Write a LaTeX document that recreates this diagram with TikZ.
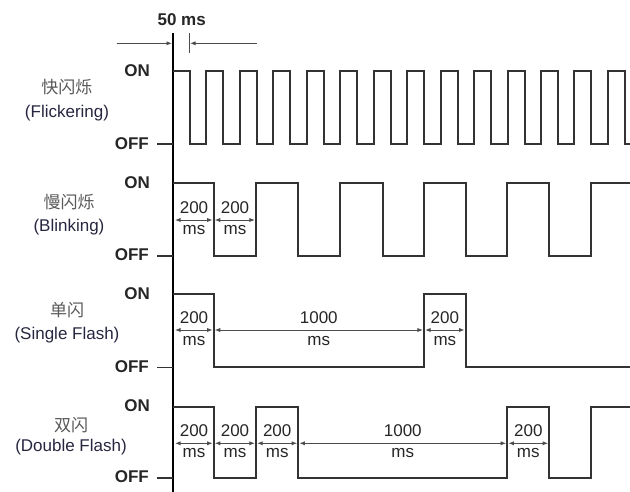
\documentclass[tikz,border=0pt]{standalone}
\usepackage{fontspec}
\setmainfont{Liberation Sans}
\newfontfamily\cjk{Noto Sans CJK SC}
\usetikzlibrary{arrows.meta}
\begin{document}
\begin{tikzpicture}[x=1pt,y=-1pt,
  sig/.style={line width=2pt, draw=black!80, line join=miter},
  axisline/.style={line width=2pt, draw=black},
  offtick/.style={line width=1.6pt, draw=black!80},
  dimtip/.style={line width=0.9pt, draw=black!70, -{Latex[length=5.5pt,width=4.2pt]}},
  dimboth/.style={line width=0.9pt, draw=black!70, {Latex[length=5.5pt,width=4.2pt]}-{Latex[length=5.5pt,width=4.2pt]}},
  txt/.style={font=\fontsize{17}{20}\selectfont, inner sep=0pt, text=black!85},
  lvl/.style={font=\fontsize{17}{20}\selectfont\bfseries, inner sep=0pt, text=black!85, anchor=east},
  cn/.style={font=\fontsize{17}{20}\selectfont\cjk, inner sep=0pt, text=black!65},
  en/.style={font=\fontsize{17}{20}\selectfont, inner sep=0pt, text={rgb,1:red,0.15;green,0.15;blue,0.25}},
]
\useasboundingbox (0,0) rectangle (630,492);

% top 50 ms dimension
\node[txt, font=\fontsize{17}{20}\selectfont\bfseries] (t50) at (181.7,20) {50 ms};
\coordinate (dl) at (116.7,43.3);
\coordinate (dr) at (256.7,43.3);
\coordinate (da) at (172,43.3);
\coordinate (db) at (190,43.3);
\draw[dimtip] (dl) -- (da);
\draw[dimtip] (dr) -- (db);
\draw[line width=0.9pt, draw=black!70] (189,33) -- (189,52.7);

% axis
\draw[axisline] (173,33) -- (173,494);

% ---------- Flickering ----------
\node[cn] (c1) at (67,87.5) {快闪烁};
\node[en] (e1) at (67,113) {(Flickering)};
\node[lvl] (on1) at (150,71) {ON};
\node[lvl] (off1) at (149,143.5) {OFF};
\draw[offtick] (157,144) -- (173,144);
\draw[sig] (173,71.5) foreach \k in {0,...,12} { -| ({190+33.45*\k},144) -| ({206.45+33.45*\k},71.5) } -| (624.85,144) -- (633,144);

% ---------- Blinking ----------
\node[cn] (c2) at (69,202.5) {慢闪烁};
\node[en] (e2) at (69,227.5) {(Blinking)};
\node[lvl] (on2) at (150,182.5) {ON};
\node[lvl] (off2) at (149,255) {OFF};
\draw[offtick] (157,256) -- (173,256);
\draw[sig] (173,183.3) -| (213.7,256) -| (256,183.3) -| (298.3,256) -| (340,183.3) -| (382.7,256) -| (424,183.3) -| (466,256) -| (507.3,183.3) -| (549.3,256) -| (590.7,183.3) -- (633,183.3);
\draw[dimboth] (175,220) -- (212.6,220);
\draw[dimboth] (214.8,220) -- (254.9,220);
\node[txt] (b1a) at (194,208) {200};
\node[txt] (b1b) at (194,230.5) {ms};
\node[txt] (b2a) at (235,208) {200};
\node[txt] (b2b) at (235,230.5) {ms};

% ---------- Single Flash ----------
\node[cn] (c3) at (67,310) {单闪};
\node[en] (e3) at (67,335) {(Single Flash)};
\node[lvl] (on3) at (150,293.5) {ON};
\node[lvl] (off3) at (149,366.5) {OFF};
\draw[offtick] (157,367.3) -- (173,367.3);
\draw[sig] (173,294.3) -| (213.7,367.3) -| (424,294.3) -| (465.7,367.3) -- (633,367.3);
\draw[dimboth] (175,330) -- (212.6,330);
\draw[dimboth] (214.8,330) -- (422.9,330);
\draw[dimboth] (425.1,330) -- (464.6,330);
\node[txt] (s1a) at (194,318) {200};
\node[txt] (s1b) at (194,341) {ms};
\node[txt] (s2a) at (318.8,318) {1000};
\node[txt] (s2b) at (318.8,341) {ms};
\node[txt] (s3a) at (444.9,318) {200};
\node[txt] (s3b) at (444.9,341) {ms};

% ---------- Double Flash ----------
\node[cn] (c4) at (71,425) {双闪};
\node[en] (e4) at (71,447.5) {(Double Flash)};
\node[lvl] (on4) at (150,406) {ON};
\node[lvl] (off4) at (149,477) {OFF};
\draw[offtick] (157,478) -- (173,478);
\draw[sig] (173,406.7) -| (213.7,478) -| (256,406.7) -| (298.3,478) -| (507.3,406.7) -| (549.3,478) -| (590.7,406.7) -- (633,406.7);
\draw[dimboth] (175,443.3) -- (212.6,443.3);
\draw[dimboth] (214.8,443.3) -- (254.9,443.3);
\draw[dimboth] (257.1,443.3) -- (297.2,443.3);
\draw[dimboth] (299.4,443.3) -- (506.2,443.3);
\draw[dimboth] (508.4,443.3) -- (548.2,443.3);
\node[txt] (d1a) at (194,430.5) {200};
\node[txt] (d1b) at (194,453.5) {ms};
\node[txt] (d2a) at (235,430.5) {200};
\node[txt] (d2b) at (235,453.5) {ms};
\node[txt] (d3a) at (277.2,430.5) {200};
\node[txt] (d3b) at (277.2,453.5) {ms};
\node[txt] (d4a) at (402.8,430.5) {1000};
\node[txt] (d4b) at (402.8,453.5) {ms};
\node[txt] (d5a) at (528.3,430.5) {200};
\node[txt] (d5b) at (528.3,453.5) {ms};
\end{tikzpicture}
\end{document}
